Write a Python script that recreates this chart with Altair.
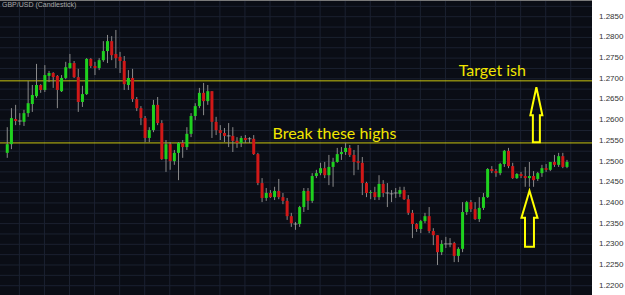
import altair as alt
import pandas as pd

# ---- data (GBP/USD candles) ----
opens = [1.2521, 1.2542, 1.2603, 1.2598, 1.2596, 1.2617, 1.2639, 1.2658, 1.2685, 1.2673,
         1.2707, 1.2714, 1.2707, 1.2670, 1.2702, 1.2726, 1.2738, 1.2704, 1.2644, 1.2663,
         1.2748, 1.2731, 1.2726, 1.2745, 1.2767, 1.2791, 1.2760, 1.2753, 1.2743, 1.2685,
         1.2702, 1.2651, 1.2629, 1.2605, 1.2557, 1.2576, 1.2637, 1.2593, 1.2506, 1.2542,
         1.2501, 1.2521, 1.2545, 1.2535, 1.2567, 1.2610, 1.2634, 1.2666, 1.2646, 1.2670,
         1.2596, 1.2576, 1.2569, 1.2562, 1.2562, 1.2550, 1.2545, 1.2557, 1.2555, 1.2555,
         1.2518, 1.2448, 1.2412, 1.2424, 1.2414, 1.2429, 1.2414, 1.2405, 1.2368, 1.2349,
         1.2349, 1.2390, 1.2429, 1.2405, 1.2465, 1.2472, 1.2484, 1.2467, 1.2487, 1.2499,
         1.2518, 1.2523, 1.2533, 1.2516, 1.2501, 1.2497, 1.2448, 1.2424, 1.2426, 1.2414,
         1.2446, 1.2424, 1.2422, 1.2424, 1.2422, 1.2431, 1.2409, 1.2376, 1.2349, 1.2337,
         1.2356, 1.2368, 1.2332, 1.2322, 1.2281, 1.2301, 1.2301, 1.2303, 1.2272, 1.2289,
         1.2378, 1.2402, 1.2385, 1.2361, 1.2388, 1.2414, 1.2482, 1.2477, 1.2472, 1.2494,
         1.2526, 1.2489, 1.2460, 1.2470, 1.2465, 1.2460, 1.2465, 1.2458, 1.2472, 1.2484,
         1.2480, 1.2499, 1.2492, 1.2513, 1.2487]
highs = [1.2583, 1.2629, 1.2637, 1.2617, 1.2625, 1.2695, 1.2685, 1.2736, 1.2687, 1.2733,
         1.2719, 1.2716, 1.2709, 1.2709, 1.2741, 1.2760, 1.2743, 1.2724, 1.2683, 1.2750,
         1.2750, 1.2741, 1.2750, 1.2791, 1.2806, 1.2803, 1.2818, 1.2765, 1.2755, 1.2721,
         1.2724, 1.2656, 1.2634, 1.2610, 1.2583, 1.2649, 1.2656, 1.2600, 1.2552, 1.2547,
         1.2528, 1.2547, 1.2552, 1.2583, 1.2617, 1.2641, 1.2678, 1.2690, 1.2685, 1.2670,
         1.2608, 1.2588, 1.2581, 1.2593, 1.2583, 1.2559, 1.2562, 1.2564, 1.2559, 1.2564,
         1.2521, 1.2460, 1.2436, 1.2431, 1.2439, 1.2458, 1.2424, 1.2412, 1.2376, 1.2354,
         1.2393, 1.2436, 1.2436, 1.2472, 1.2480, 1.2497, 1.2499, 1.2516, 1.2509, 1.2533,
         1.2535, 1.2545, 1.2540, 1.2528, 1.2540, 1.2511, 1.2451, 1.2431, 1.2439, 1.2467,
         1.2455, 1.2448, 1.2431, 1.2436, 1.2439, 1.2439, 1.2419, 1.2383, 1.2351, 1.2359,
         1.2376, 1.2390, 1.2339, 1.2322, 1.2310, 1.2318, 1.2315, 1.2306, 1.2293, 1.2402,
         1.2405, 1.2407, 1.2402, 1.2414, 1.2424, 1.2484, 1.2489, 1.2482, 1.2497, 1.2528,
         1.2533, 1.2497, 1.2472, 1.2475, 1.2487, 1.2499, 1.2477, 1.2475, 1.2492, 1.2494,
         1.2499, 1.2516, 1.2521, 1.2521, 1.2504]
lows = [1.2509, 1.2530, 1.2588, 1.2588, 1.2586, 1.2608, 1.2620, 1.2654, 1.2666, 1.2668,
        1.2692, 1.2678, 1.2629, 1.2668, 1.2699, 1.2724, 1.2702, 1.2620, 1.2632, 1.2661,
        1.2726, 1.2709, 1.2721, 1.2741, 1.2738, 1.2745, 1.2726, 1.2714, 1.2673, 1.2673,
        1.2644, 1.2622, 1.2588, 1.2547, 1.2547, 1.2571, 1.2588, 1.2504, 1.2475, 1.2480,
        1.2492, 1.2455, 1.2509, 1.2528, 1.2559, 1.2600, 1.2629, 1.2612, 1.2637, 1.2557,
        1.2564, 1.2552, 1.2547, 1.2535, 1.2523, 1.2533, 1.2535, 1.2545, 1.2545, 1.2516,
        1.2443, 1.2402, 1.2405, 1.2412, 1.2407, 1.2409, 1.2397, 1.2359, 1.2342, 1.2335,
        1.2342, 1.2378, 1.2383, 1.2400, 1.2460, 1.2467, 1.2460, 1.2443, 1.2439, 1.2497,
        1.2504, 1.2516, 1.2511, 1.2467, 1.2480, 1.2419, 1.2414, 1.2409, 1.2407, 1.2407,
        1.2414, 1.2390, 1.2402, 1.2412, 1.2414, 1.2407, 1.2371, 1.2315, 1.2330, 1.2327,
        1.2351, 1.2327, 1.2298, 1.2250, 1.2274, 1.2291, 1.2293, 1.2257, 1.2257, 1.2281,
        1.2371, 1.2378, 1.2359, 1.2354, 1.2383, 1.2412, 1.2472, 1.2463, 1.2467, 1.2487,
        1.2484, 1.2458, 1.2458, 1.2460, 1.2439, 1.2439, 1.2439, 1.2453, 1.2463, 1.2475,
        1.2477, 1.2487, 1.2487, 1.2484, 1.2484]
closes = [1.2542, 1.2605, 1.2598, 1.2598, 1.2617, 1.2641, 1.2661, 1.2685, 1.2673, 1.2709,
          1.2714, 1.2704, 1.2673, 1.2702, 1.2728, 1.2738, 1.2704, 1.2644, 1.2663, 1.2748,
          1.2731, 1.2726, 1.2745, 1.2767, 1.2791, 1.2757, 1.2750, 1.2743, 1.2687, 1.2702,
          1.2651, 1.2629, 1.2605, 1.2557, 1.2576, 1.2637, 1.2593, 1.2506, 1.2542, 1.2501,
          1.2521, 1.2545, 1.2535, 1.2567, 1.2610, 1.2634, 1.2666, 1.2646, 1.2670, 1.2596,
          1.2576, 1.2569, 1.2562, 1.2562, 1.2550, 1.2545, 1.2557, 1.2552, 1.2555, 1.2518,
          1.2448, 1.2412, 1.2424, 1.2414, 1.2429, 1.2414, 1.2405, 1.2368, 1.2351, 1.2349,
          1.2390, 1.2429, 1.2405, 1.2465, 1.2472, 1.2484, 1.2467, 1.2487, 1.2499, 1.2518,
          1.2523, 1.2533, 1.2516, 1.2499, 1.2497, 1.2448, 1.2424, 1.2426, 1.2414, 1.2446,
          1.2424, 1.2424, 1.2422, 1.2424, 1.2431, 1.2409, 1.2376, 1.2349, 1.2337, 1.2356,
          1.2368, 1.2332, 1.2322, 1.2281, 1.2301, 1.2301, 1.2301, 1.2272, 1.2289, 1.2378,
          1.2402, 1.2385, 1.2361, 1.2388, 1.2414, 1.2482, 1.2477, 1.2472, 1.2494, 1.2526,
          1.2489, 1.2460, 1.2470, 1.2465, 1.2460, 1.2465, 1.2455, 1.2472, 1.2484, 1.2480,
          1.2499, 1.2492, 1.2513, 1.2487, 1.2499]

level_prices = [1.2695, 1.2545]
y_ticks = [1.2200, 1.2250, 1.2300, 1.2350, 1.2400, 1.2450, 1.2500, 1.2550,
           1.2600, 1.2650, 1.2700, 1.2750, 1.2800, 1.2850]
y_labels = ["1.2200", "1.2250", "1.2300", "1.2350", "1.2400", "1.2450", "1.2500",
            "1.2550", "1.2600", "1.2650", "1.2700", "1.2750", "1.2800", "1.2850"]
note_texts = ["Target ish", "Break these highs"]
note_x = [108.06, 63.5]
note_y = [1.2707, 1.2555]
arrow_up_x = [126.67]
arrow_up_y = [1.2612]
arrow_low_x = [125.02]
arrow_low_y = [1.2364]
title_text = "GBP/USD (Candlestick)"

# ---- tables ----
n = len(opens)
df = pd.DataFrame({"i": list(range(n)), "open": opens, "high": highs,
                   "low": lows, "close": closes})
df["dir"] = ["up" if c > o else ("down" if c < o else "flat")
             for o, c in zip(opens, closes)]
flat = df[df["dir"] == "flat"]
bodies = df[df["dir"] != "flat"]

hgrid = pd.DataFrame({"p": [1.2175 + 0.0025 * k for k in range(29)]})
vgrid = pd.DataFrame({"gx": [2.9 + 6 * k for k in range(25)]})
levels = pd.DataFrame({"p": level_prices})
axis_df = pd.DataFrame({"p": y_ticks, "lab": y_labels})
notes = pd.DataFrame({"t": note_texts, "x": note_x, "y": note_y})

W, H = 625, 295
xs = alt.Scale(domain=[-0.542, 146.69], nice=False, zero=False)
ys = alt.Scale(domain=[1.21775, 1.28904], nice=False, zero=False)

X = lambda f: alt.X(f, type="quantitative", scale=xs, axis=None)
Y = lambda f: alt.Y(f, type="quantitative", scale=ys, axis=None)

grid_h = alt.Chart(hgrid).mark_rule(color="#1b2130", strokeWidth=1).encode(y=Y("p"))
grid_v = alt.Chart(vgrid).mark_rule(color="#1b2130", strokeWidth=1).encode(x=X("gx"))

level_rules = alt.Chart(levels).mark_rule(color="#c8c410", strokeWidth=1).encode(y=Y("p"))

wicks = alt.Chart(df).mark_rule(color="#8a8a8a", strokeWidth=1).encode(
    x=X("i"), y=Y("low"), y2="high")

body = alt.Chart(bodies).mark_bar(size=3).encode(
    x=X("i"), y=Y("open"), y2="close",
    color=alt.Color("dir:N", legend=None,
                    scale=alt.Scale(domain=["up", "down"], range=["#1fd11f", "#d01818"])))

doji = alt.Chart(flat).mark_tick(orient="horizontal", size=4, thickness=1,
                                 color="#b0b0b0").encode(x=X("i"), y=Y("close"))

note_marks = alt.Chart(notes).mark_text(align="left", baseline="alphabetic",
                                        font="Lato", fontSize=16,
                                        color="#f2e600").encode(
    x=X("x"), y=Y("y"), text="t:N")

arrow1_path = "M0,-1 L0.214,0 L0.125,0 L0.125,0.964 L-0.125,0.964 L-0.125,0 L-0.214,0 Z"
arrow2_path = "M0,-0.964 L0.286,0 L0.16,0 L0.16,1.036 L-0.16,1.036 L-0.16,0 L-0.286,0 Z"
arrow1 = alt.Chart(pd.DataFrame({"x": arrow_up_x, "y": arrow_up_y})).mark_point(
    shape=arrow1_path, size=3136, filled=False, stroke="#ffff00", strokeWidth=2,
    opacity=1).encode(x=X("x"), y=Y("y"))
arrow2 = alt.Chart(pd.DataFrame({"x": arrow_low_x, "y": arrow_low_y})).mark_point(
    shape=arrow2_path, size=3136, filled=False, stroke="#ffff00", strokeWidth=2,
    opacity=1).encode(x=X("x"), y=Y("y"))

panel = alt.Chart(axis_df.head(1)).mark_rect(color="white").encode(
    x=alt.value(592), x2=alt.value(W), y=alt.value(0), y2=alt.value(H))

top_border = alt.Chart(axis_df.head(1)).mark_rule(color="#7a7a7a", strokeWidth=1).encode(
    x=alt.value(0), x2=alt.value(592), y=alt.value(0.5))

axis_labels = alt.Chart(axis_df).mark_text(
    align="left", baseline="middle", font="Liberation Sans", fontSize=8,
    color="#333333").encode(x=alt.value(599), y=Y("p"), text="lab:N")

title_mark = alt.Chart(axis_df.head(1)).mark_text(
    text=title_text, align="left", baseline="alphabetic", font="Liberation Sans",
    fontSize=7, color="#a8a8a8").encode(x=alt.value(2), y=alt.value(7))

chart = alt.layer(
    grid_h, grid_v, level_rules, wicks, body, doji, note_marks, arrow1, arrow2,
    panel, top_border, axis_labels, title_mark
).properties(
    width=W, height=H, background="#0a0d15", padding=0,
    autosize=alt.AutoSizeParams(type="none")
).configure_view(stroke=None)

chart.save("out.html", embed_options={"renderer": "svg", "actions": False})
